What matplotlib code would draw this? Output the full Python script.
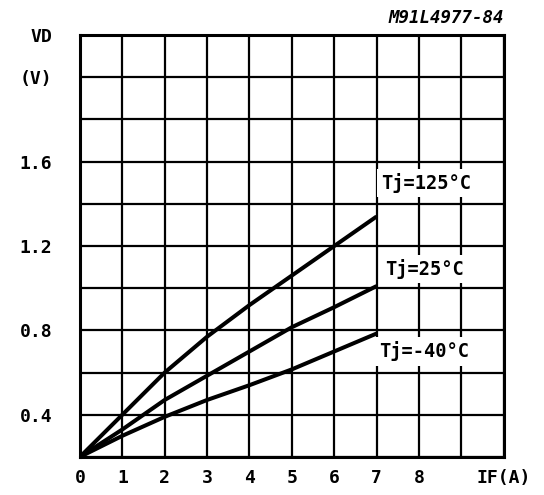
import matplotlib
matplotlib.use("Agg")
import matplotlib.pyplot as plt

# ------------------------ data ------------------------
current = [0, 1, 2, 3, 4, 5, 6, 7]
vd_125 = [0.2, 0.40, 0.60, 0.77, 0.92, 1.06, 1.20, 1.34]
vd_25 = [0.2, 0.33, 0.47, 0.585, 0.70, 0.815, 0.91, 1.01]
vd_m40 = [0.2, 0.30, 0.39, 0.47, 0.54, 0.615, 0.70, 0.785]

curve_labels = ["Tj=125°C", "Tj=25°C", "Tj=-40°C"]
label_pos = [(7.1, 1.50), (7.2, 1.09), (7.06, 0.70)]

x_ticks = [0, 1, 2, 3, 4, 5, 6, 7, 8, 10]
x_ticklabels = ["0", "1", "2", "3", "4", "5", "6", "7", "8", "IF(A)"]
y_ticks = [0.4, 0.8, 1.2, 1.6, 2.0, 2.2]
y_ticklabels = ["0.4", "0.8", "1.2", "1.6", "(V)", "VD"]

# ------------------------ plot ------------------------
font = "DejaVu Sans Mono"

fig = plt.figure(figsize=(5.44, 4.95), dpi=100)
ax = fig.add_axes([0.147, 0.077, 0.779, 0.852])

ax.set_xlim(0, 10)
ax.set_ylim(0.2, 2.2)

# grid every 1 A / 0.2 V
for gx in range(0, 11):
    ax.axvline(gx, color="black", lw=1.6, zorder=1)
for i in range(0, 11):
    ax.axhline(0.2 + 0.2 * i, color="black", lw=1.6, zorder=1)

for s in ax.spines.values():
    s.set_linewidth(2.2)

for vals in (vd_125, vd_25, vd_m40):
    ax.plot(current, vals, color="black", lw=2.9, solid_capstyle="butt",
            solid_joinstyle="round", zorder=5)

for txt, (lx, ly) in zip(curve_labels, label_pos):
    ax.text(lx, ly, txt, fontsize=13.5, fontweight="bold", family=font,
            ha="left", va="center", zorder=4,
            bbox=dict(facecolor="white", edgecolor="none", pad=3))

ax.set_xticks(x_ticks)
ax.set_xticklabels(x_ticklabels, fontsize=13, fontweight="bold", family=font)
ax.set_yticks(y_ticks)
ax.set_yticklabels(y_ticklabels, fontsize=13, fontweight="bold", family=font)
ax.tick_params(axis="both", length=0)
ax.tick_params(axis="x", pad=9)
ax.tick_params(axis="y", pad=20)

ax.text(1.0, 1.02, "M91L4977-84", transform=ax.transAxes, ha="right", va="bottom",
        fontsize=12.5, fontweight="bold", fontstyle="italic", family=font)

fig.savefig("out.png", dpi=100)
